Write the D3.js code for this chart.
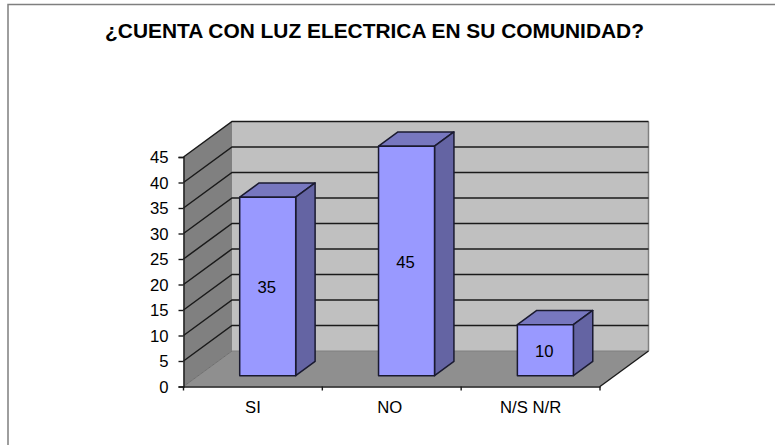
<!DOCTYPE html>
<html><head><meta charset="utf-8">
<script src="https://cdnjs.cloudflare.com/ajax/libs/d3/7.8.5/d3.min.js"></script>
<style>html,body{margin:0;padding:0;background:#fff}svg{display:block}text{font-family:"Liberation Sans",Arial,sans-serif;fill:#000}</style>
</head><body><svg id="c" width="775" height="445"></svg>
<script>
const titleText = "¿CUENTA CON LUZ ELECTRICA EN SU COMUNIDAD?";
const categories = ["SI","NO","N/S N/R"];
const values = [35,45,10];
const yTicks = [0,5,10,15,20,25,30,35,40,45];

const svg = d3.select("#c");
const x = d3.scaleBand().domain(categories).range([183.5,600]).paddingInner(0).paddingOuter(0);
const y = d3.scaleLinear().domain([0,45]).range([386.5,157]);
const DX = 48.5, DY = 35.5;
const px = (v,z) => v + z*DX;
const py = (v,z) => y(v) - z*DY;
const poly = pts => "M" + pts.map(p=>p.join(",")).join("L") + "Z";
const line = (x1,y1,x2,y2,col,w) => svg.append("line").attr("x1",x1).attr("y1",y1).attr("x2",x2).attr("y2",y2).attr("stroke",col).attr("stroke-width",w);

// frame
svg.append("path").attr("d","M8,445V4.5H775").attr("fill","none").attr("stroke","#7f7f7f").attr("stroke-width",1.5);

svg.append("text").attr("x",374.5).attr("y",38).attr("text-anchor","middle")
  .attr("font-size",20.9).attr("font-weight","bold").attr("id","t").text(titleText);

const xL = x.range()[0], xR = x.range()[1], yMax = 45;
// walls
svg.append("path").attr("d",poly([[px(xL,1),py(yMax,1)],[px(xR,1),py(yMax,1)],[px(xR,1),py(0,1)],[px(xL,1),py(0,1)]])).attr("fill","#c0c0c0");
svg.append("path").attr("d",poly([[px(xL,0),py(yMax,0)],[px(xL,1),py(yMax,1)],[px(xL,1),py(0,1)],[px(xL,0),py(0,0)]])).attr("fill","#808080");
svg.append("path").attr("d",poly([[px(xL,0),py(0,0)],[px(xL,1),py(0,1)],[px(xR,1),py(0,1)],[px(xR,0),py(0,0)]])).attr("fill","#8f8f8f");
line(px(xR,1),py(yMax,1),px(xR,1),py(0,1),"#808080",1.5);
line(px(xL,1),py(0,1),px(xR,1),py(0,1),"#808080",1);
line(px(xL,0),py(0,0),px(xL,1),py(0,1),"#6f6f6f",1);

// gridlines
yTicks.filter(d=>d>0).forEach(d=>{
  svg.append("path").attr("fill","none").attr("stroke","#1a1a1a").attr("stroke-width",1.5)
    .attr("d",`M${px(xL,0)},${py(d,0)}L${px(xL,1)},${py(d,1)}L${px(xR,1)},${py(d,1)}`);
});

// axes
const labelFont = '"Liberation Sans",Arial,sans-serif';
const yAxis = d3.axisLeft(y).tickValues(yTicks).tickSize(5).tickPadding(10);
const gy = svg.append("g").attr("transform",`translate(${xL},0)`).call(yAxis);
gy.selectAll("text").attr("font-size",16.7).attr("y",0.6).style("font-family",labelFont);
gy.selectAll("line,path").attr("stroke","#1a1a1a").attr("stroke-width",1.4);

const xAxis = d3.axisBottom(x).tickSize(0).tickPadding(15);
const gx = svg.append("g").attr("transform",`translate(0,${y(0)})`).call(xAxis);
gx.selectAll("text").attr("font-size",16.7).style("font-family",labelFont);
gx.selectAll("text").filter(d=>d==="NO").attr("dx",-2);
gx.selectAll("path").attr("stroke","#1a1a1a").attr("stroke-width",1.5);
const edges = categories.map(c=>x(c)).concat([xR]);
svg.selectAll(".xt").data(edges).join("line").attr("x1",d=>d).attr("x2",d=>d)
  .attr("y1",y(0)).attr("y2",y(0)+4).attr("stroke","#1a1a1a").attr("stroke-width",1.4);
line(px(xR,0),py(0,0),px(xR,1),py(0,1),"#1a1a1a",1.4);

// bars
const barW = 56, z0 = 0.305, z1 = 0.705;
categories.forEach((c,i)=>{
  const v = values[i];
  const l = x(c) + (x.bandwidth()-barW)/2, r = l + barW;
  const g = svg.append("g").attr("stroke","#1a1a30").attr("stroke-width",1.5).attr("stroke-linejoin","round");
  g.append("path").attr("fill","#7777bf").attr("d",poly([[px(l,z0),py(v,z0)],[px(l,z1),py(v,z1)],[px(r,z1),py(v,z1)],[px(r,z0),py(v,z0)]]));
  g.append("path").attr("fill","#6464a3").attr("d",poly([[px(r,z0),py(v,z0)],[px(r,z1),py(v,z1)],[px(r,z1),py(0,z1)],[px(r,z0),py(0,z0)]]));
  g.append("path").attr("fill","#9999ff").attr("d",poly([[px(l,z0),py(v,z0)],[px(r,z0),py(v,z0)],[px(r,z0),py(0,z0)],[px(l,z0),py(0,z0)]]));
  svg.append("text").attr("x",px(l+barW/2,z0)-1).attr("y",(py(v,z0)+py(0,z0))/2+7)
    .attr("text-anchor","middle").attr("font-size",16.7).text(v);
});
</script></body></html>
